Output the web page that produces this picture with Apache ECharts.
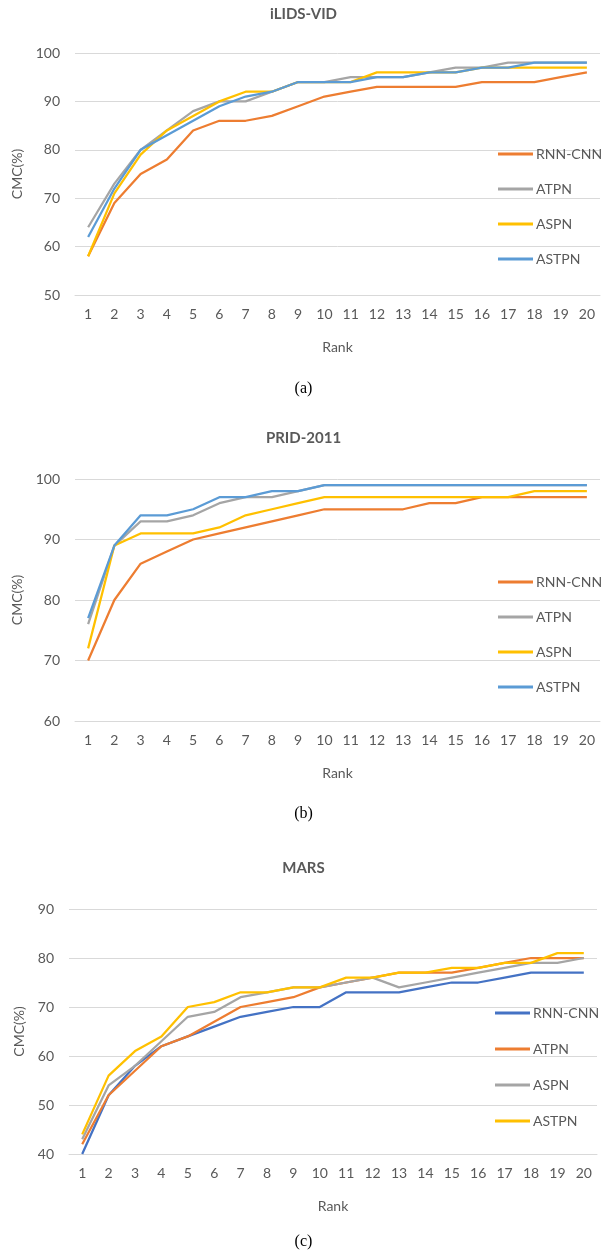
<!DOCTYPE html>
<html><head><meta charset="utf-8">
<script src="https://cdn.jsdelivr.net/npm/echarts@6/dist/echarts.min.js"></script>
<style>html,body{margin:0;padding:0;background:#fff}#c{width:607px;height:1257px}</style>
</head><body><div id="c"></div>
<script>
const ranks = ['1','2','3','4','5','6','7','8','9','10','11','12','13','14','15','16','17','18','19','20'];
const seriesNames = ['RNN-CNN','ATPN','ASPN','ASTPN'];
const chartTitles = ['iLIDS-VID','PRID-2011','MARS'];
const captions = ['(a)','(b)','(c)'];

// (a) iLIDS-VID
const ilidsRnnCnn = [58,69,75,78,84,86,86,87,89,91,92,93,93,93,93,94,94,94,95,96];
const ilidsAtpn   = [64,73,80,84,88,90,90,92,94,94,95,95,95,96,97,97,98,98,98,98];
const ilidsAspn   = [58,71,79,84,87,90,92,92,94,94,94,96,96,96,96,97,97,97,97,97];
const ilidsAstpn  = [62,72,80,83,86,89,91,92,94,94,94,95,95,96,96,97,97,98,98,98];

// (b) PRID-2011
const pridRnnCnn = [70,80,86,88,90,91,92,93,94,95,95,95,95,96,96,97,97,97,97,97];
const pridAtpn   = [76,89,93,93,94,96,97,97,98,99,99,99,99,99,99,99,99,99,99,99];
const pridAspn   = [72,89,91,91,91,92,94,95,96,97,97,97,97,97,97,97,97,98,98,98];
const pridAstpn  = [77,89,94,94,95,97,97,98,98,99,99,99,99,99,99,99,99,99,99,99];

// (c) MARS
const marsRnnCnn = [40,52,58,62,64,66,68,69,70,70,73,73,73,74,75,75,76,77,77,77];
const marsAtpn   = [42,52,57,62,64,67,70,71,72,74,75,76,77,77,77,78,79,80,80,80];
const marsAspn   = [43,54,58,63,68,69,72,73,74,74,75,76,74,75,76,77,78,79,79,80];
const marsAstpn  = [44,56,61,64,70,71,73,73,74,74,76,76,77,77,78,78,79,79,81,81];

const yMins = [50,60,40];
const yMaxs = [100,100,90];

const colorsAB = ['#ED7D31','#A5A5A5','#FFC000','#5B9BD5'];
const colorsC  = ['#4472C4','#ED7D31','#A5A5A5','#FFC000'];

const panels = [
  {data:[ilidsRnnCnn,ilidsAtpn,ilidsAspn,ilidsAstpn], colors:colorsAB},
  {data:[pridRnnCnn,pridAtpn,pridAspn,pridAstpn], colors:colorsAB},
  {data:[marsRnnCnn,marsAtpn,marsAspn,marsAstpn], colors:colorsC}
];

const FONT = 'Lato';
const TXT = '#595959';
const GRIDC = '#D9D9D9';

const grids = [
  {left:75, top:53, width:525, height:242},
  {left:75, top:479, width:525, height:242},
  {left:69, top:909, width:528, height:245}
];
const titleTops = [7, 431, 861];
const captionTops = [381, 806, 1234];
const legendPos = [
  {left:498, top:146, itemGap:19},
  {left:498, top:574, itemGap:19},
  {left:495, top:1005, itemGap:20}
];

const option = {
  animation:false,
  backgroundColor:'#fff',
  title: [],
  grid: grids,
  xAxis: [], yAxis: [], series: [], legend: []
};

panels.forEach((p,i)=>{
  option.title.push({
    text: chartTitles[i], left:'center', top: titleTops[i], padding:0,
    textStyle:{fontFamily:FONT, fontSize:15, fontWeight:'bold', color:TXT}
  });
  option.title.push({
    text: captions[i], left:'center', top: captionTops[i], padding:0,
    textStyle:{fontFamily:'Liberation Serif', fontSize:16, fontWeight:'normal', color:'#000'}
  });
  option.xAxis.push({
    type:'category', gridIndex:i, data:ranks, boundaryGap:true,
    axisTick:{show:false},
    axisLine:{show:true, lineStyle:{color:GRIDC, width:1}},
    axisLabel:{color:TXT, fontFamily:FONT, fontSize:14, margin:12},
    name:'Rank', nameLocation:'middle', nameGap:45,
    nameTextStyle:{color:TXT, fontFamily:FONT, fontSize:14}
  });
  option.yAxis.push({
    type:'value', gridIndex:i, min:yMins[i], max:yMaxs[i], interval:10,
    axisLine:{show:false}, axisTick:{show:false},
    splitLine:{show:true, lineStyle:{color:GRIDC, width:1}},
    axisLabel:{color:TXT, fontFamily:FONT, fontSize:14, margin:15},
    name:'CMC(%)', nameLocation:'middle', nameGap:42, nameRotate:90,
    nameTextStyle:{color:TXT, fontFamily:FONT, fontSize:14}
  });
  p.data.forEach((d,k)=>{
    option.series.push({
      type:'line', name: seriesNames[k], xAxisIndex:i, yAxisIndex:i,
      data:d, symbol:'none', smooth:false,
      lineStyle:{color:p.colors[k], width:2.25},
      itemStyle:{color:p.colors[k]}
    });
  });
  option.legend.push({
    orient:'vertical', left:legendPos[i].left, top:legendPos[i].top,
    itemGap:legendPos[i].itemGap, itemWidth:35, itemHeight:3, icon:'rect',
    selectedMode:false, padding:0,
    textStyle:{color:TXT, fontFamily:FONT, fontSize:14, lineHeight:16, padding:[0,0,0,-2]},
    data: seriesNames.map((n,k)=>({name:n, icon:'rect', itemStyle:{color:p.colors[k]}}))
  });
});

const chart = echarts.init(document.getElementById('c'), null, {renderer:'canvas'});
chart.setOption(option);
</script>
</body></html>
